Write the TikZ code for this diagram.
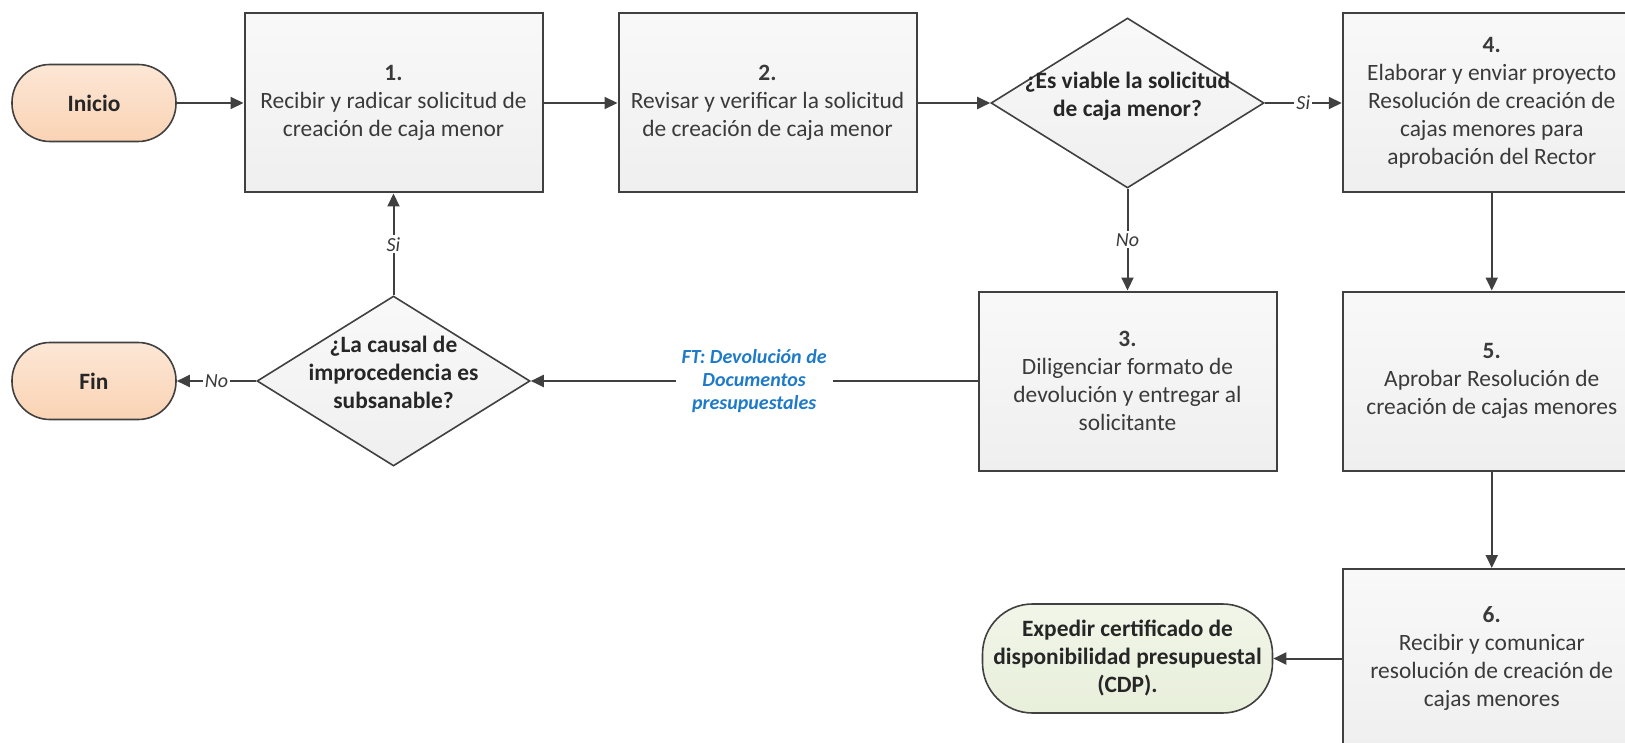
\documentclass[tikz,border=0pt]{standalone}
\usepackage{fontspec}
\setmainfont{Carlito}
\usetikzlibrary{shapes.geometric,arrows.meta}

\definecolor{linegray}{HTML}{404040}
\definecolor{txtgray}{HTML}{3A3A3A}
\definecolor{boxgray}{HTML}{EFEFEF}
\definecolor{peach}{HTML}{FAD3B4}
\definecolor{sage}{HTML}{E8EFDA}
\definecolor{ftblue}{HTML}{1F7BC8}
\tikzstyle{paso} = [draw=linegray, line width=1pt, rectangle, minimum width=149pt, minimum height=89.5pt, top color=boxgray!40, bottom color=boxgray, text=txtgray, align=center, font=\fontsize{11.7}{14}\selectfont]

% text that does not push the diamond open
\newcommand{\dtext}[1]{\smash{\makebox[0pt]{\begin{tabular}{@{}c@{}}#1\end{tabular}}}}

\begin{document}
\begin{tikzpicture}[x=0.5pt, y=-0.5pt,
		terminal/.style = {draw=linegray, line width=0.8pt, rectangle, inner xsep=0pt, text=black!85, font=\fontsize{11.7}{14}\selectfont\bfseries, align=center},
		inout/.style = {terminal, rounded corners=19pt, minimum width=82pt, minimum height=38.5pt, top color=peach!55, bottom color=peach},
		cierre/.style = {terminal, rounded corners=25pt, minimum width=145pt, minimum height=54.5pt, top color=sage!60, bottom color=sage},
		pregunta/.style = {draw=linegray, line width=0.8pt, diamond, minimum width=136.5pt, minimum height=85pt, inner sep=0pt, top color=boxgray!40, bottom color=boxgray, text=black!85, font=\fontsize{11.7}{14}\selectfont\bfseries},
		flecha/.style = {draw=linegray, line width=1pt, -{Triangle[length=6.5pt, width=6pt]}},
		etiqueta/.style = {midway, fill=white, inner sep=1pt, text=txtgray, font=\fontsize{10}{11}\selectfont\itshape}]
		\useasboundingbox (0,0) rectangle (1625,743);
		% fila de arriba
		\node (inicio) [inout] at (94,103) {Inicio};
		\node (r1) [paso] at (393.5,103) {\textbf{1.}\\Recibir y radicar solicitud de\\creación de caja menor};
		\node (r2) [paso] at (767.5,103) {\textbf{2.}\\Revisar y verificar la solicitud\\de creación de caja menor};
		\node (d1) [pregunta] at (1127.5,103) {\dtext{¿Es viable la solicitud\\de caja menor?}};
		\node (r4) [paso] at (1491.75,103) {\textbf{4.}\\Elaborar y enviar proyecto\\Resolución de creación de\\cajas menores para\\aprobación del Rector};
		% fila del medio
		\node (fin) [inout] at (94,381) {Fin};
		\node (d2) [pregunta] at (393.5,381) {\dtext{¿La causal de\\improcedencia es\\subsanable?}};
		\node (r3) [paso] at (1127.5,381) {\textbf{3.}\\Diligenciar formato de\\devolución y entregar al\\solicitante};
		\node (r5) [paso] at (1491.75,381) {\textbf{5.}\\Aprobar Resolución de\\creación de cajas menores};
		% fila de abajo
		\node (cdp) [cierre] at (1127.5,658.5) {Expedir certificado de\\disponibilidad presupuestal\\(CDP).};
		\node (r6) [paso] at (1491.75,658.5) {\textbf{6.}\\Recibir y comunicar\\resolución de creación de\\cajas menores};

		\draw[flecha] (inicio) -- (r1);
		\draw[flecha] (r1) -- (r2);
		\draw[flecha] (r2) -- (d1);
		\draw[flecha] (d1) -- (r4) node [etiqueta] {Si};
		\draw[flecha] (d1) -- (r3) node [etiqueta] {No};
		\draw[flecha] (r4) -- (r5);
		\draw[flecha] (r5) -- (r6);
		\draw[flecha] (r6) -- (cdp);
		\draw[flecha] (r3) -- (d2) node [midway, fill=white, inner sep=3pt, align=center, text=ftblue, font=\fontsize{10}{11.7}\selectfont\bfseries\itshape] {FT: Devolución de\\Documentos\\presupuestales};
		\draw[flecha] (d2) -- (fin) node [etiqueta] {No};
		\draw[flecha] (d2) -- (r1) node [etiqueta] {Si};
	\end{tikzpicture}
\end{document}
